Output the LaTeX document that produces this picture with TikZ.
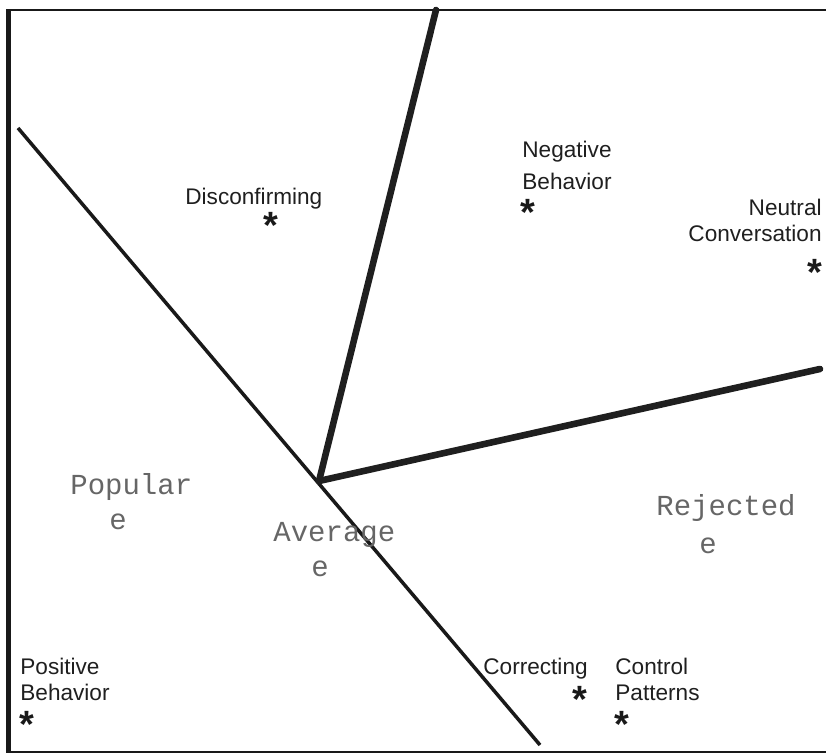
\documentclass[tikz,border=0pt]{standalone}
\usepackage{fontspec}
\setmainfont{Liberation Sans}
\newfontfamily\monofont{Liberation Mono}
\usetikzlibrary{positioning}
\tikzset{
  lbl/.style={font=\fontsize{11.3}{13}\selectfont, text=black!88, inner sep=0pt, align=left},
  grp/.style={font=\monofont\fontsize{14.5}{14.5}\selectfont, text=black!60, inner sep=0pt},
  star/.style={font=\fontsize{19}{19}\selectfont\bfseries, text=black!90, inner sep=0pt},
  border/.style={black!90},
  axis/.style={line width=1.75pt, black!90},
  ray/.style={line width=3.3pt, black!88, line cap=round}
}

\begin{document}
\begin{tikzpicture}[x=0.5pt,y=-0.5pt]
\useasboundingbox (0,0) rectangle (826,754);
% frame (open on the right)
\draw[border,line width=1pt] (826,10) -- (6,10);
\draw[border,line width=2.5pt] (8.5,9.5) -- (8.5,752.5);
\draw[border,line width=1pt] (6,752) -- (826,752);

% dividing lines
\coordinate (hub) at (319,481);
\coordinate (ntop) at (436,10);
\coordinate (eend) at (820,369);
\coordinate (dtop) at (18,128);
\coordinate (dbot) at (540,745);
\draw[axis] (dtop) -- (dbot);
\draw[ray] (hub) -- (ntop);
\draw[ray] (hub) -- (eend);

% behaviour labels (base = last line)
\node[lbl,anchor=base west] (disc) at (185,205) {Disconfirming};
\node[star] (sdisc) at (271,225) {*};
\node[lbl,anchor=base west,font=\fontsize{11.3}{16}\selectfont] (neg) at (522,190) {Negative\\Behavior};
\node[star] (sneg) at (528,212) {*};
\node[lbl,anchor=base east,align=right] (neut) at (822,242) {Neutral\\Conversation};
\node[star] (sneut) at (815,272) {*};
\node[lbl,anchor=base west] (pos) at (20,700) {Positive\\Behavior};
\node[star] (spos) at (27,724) {*};
\node[lbl,anchor=base west] (corr) at (483,675) {Correcting};
\node[star] (scorr) at (580,699) {*};
\node[lbl,anchor=base west] (ctrl) at (615,700) {Control\\Patterns};
\node[star] (sctrl) at (622,724) {*};

% status groups
\node[grp,anchor=base west] (pop) at (70,495) {Popular};
\node[grp,anchor=base] (pope) at (118,530) {e};
\node[grp,anchor=base west] (avg) at (273,542) {Average};
\node[grp,anchor=base] (avge) at (320,577) {e};
\node[grp,anchor=base west] (rej) at (656,516) {Rejected};
\node[grp,anchor=base] (reje) at (708,553) {e};
\end{tikzpicture}
\end{document}
